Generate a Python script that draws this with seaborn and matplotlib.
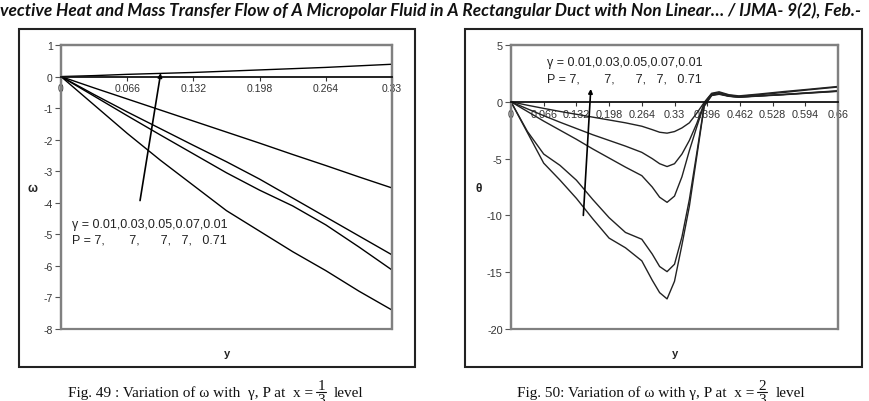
import numpy as np
import pandas as pd
import matplotlib
matplotlib.use("Agg")
import matplotlib.pyplot as plt
import seaborn as sns
from matplotlib.patches import Rectangle
from matplotlib.lines import Line2D

# ---------------- data : Fig. 49 (omega) ----------------
x_left = [0, 0.033, 0.066, 0.099, 0.132, 0.165, 0.198, 0.231, 0.264, 0.297, 0.33]
w1 = [0, 0.03, 0.07, 0.10, 0.13, 0.17, 0.21, 0.25, 0.29, 0.34, 0.39]
w2 = [0, -0.36, -0.71, -1.06, -1.41, -1.76, -2.11, -2.47, -2.82, -3.18, -3.53]
w3 = [0, -0.57, -1.12, -1.65, -2.18, -2.70, -3.25, -3.85, -4.45, -5.05, -5.65]
w4 = [0, -0.62, -1.24, -1.85, -2.45, -3.05, -3.60, -4.10, -4.70, -5.40, -6.13]
w5 = [0, -0.90, -1.80, -2.65, -3.45, -4.25, -4.90, -5.55, -6.15, -6.80, -7.40]

left_xticks = [0, 0.066, 0.132, 0.198, 0.264, 0.33]
left_xlabels = ["0", "0.066", "0.132", "0.198", "0.264", "0.33"]
left_yticks = [1, 0, -1, -2, -3, -4, -5, -6, -7, -8]

# ---------------- data : Fig. 50 (theta) ----------------
x_right = [0, 0.033, 0.066, 0.099, 0.132, 0.165, 0.198, 0.231, 0.264, 0.285,
           0.30, 0.315, 0.33, 0.345, 0.36, 0.375, 0.39, 0.405, 0.42, 0.44,
           0.46, 0.50, 0.55, 0.60, 0.66]
t1 = [0, -0.30, -0.58, -0.85, -1.10, -1.35, -1.60, -1.85, -2.15, -2.45,
      -2.68, -2.76, -2.62, -2.30, -1.85, -1.00, -0.05, 0.75, 0.88, 0.62,
      0.52, 0.68, 0.90, 1.10, 1.35]
t2 = [0, -0.62, -1.22, -1.80, -2.35, -2.90, -3.40, -3.90, -4.45, -5.00,
      -5.45, -5.70, -5.45, -4.60, -3.40, -1.90, -0.10, 0.70, 0.80, 0.58,
      0.48, 0.62, 0.82, 1.05, 1.30]
t3 = [0, -0.85, -1.70, -2.50, -3.30, -4.15, -4.95, -5.75, -6.50, -7.50,
      -8.40, -8.85, -8.30, -6.60, -4.30, -2.20, -0.20, 0.62, 0.72, 0.50,
      0.42, 0.52, 0.65, 0.80, 0.97]
t4 = [0, -2.60, -4.60, -5.60, -6.90, -8.60, -10.20, -11.50, -12.10, -13.40,
      -14.50, -14.95, -14.30, -11.90, -8.60, -4.50, -0.30, 0.58, 0.70, 0.50,
      0.42, 0.52, 0.64, 0.78, 0.94]
t5 = [0, -2.70, -5.40, -6.90, -8.50, -10.30, -12.00, -12.85, -14.00, -15.70,
      -16.80, -17.35, -15.80, -12.60, -9.20, -4.80, -0.40, 0.55, 0.66, 0.48,
      0.40, 0.50, 0.62, 0.76, 0.92]

right_xticks = [0, 0.066, 0.132, 0.198, 0.264, 0.33, 0.396, 0.462, 0.528, 0.594, 0.66]
right_xlabels = ["0", "0.066", "0.132", "0.198", "0.264", "0.33", "0.396",
                 "0.462", "0.528", "0.594", "0.66"]
right_yticks = [5, 0, -5, -10, -15, -20]

gammas = ["0.01", "0.03", "0.05", "0.07", "0.01"]
p_line = "P = 7,       7,      7,   7,   0.71"

title_text = ("vective Heat and Mass Transfer Flow of A Micropolar Fluid in A "
              "Rectangular Duct with Non Linear\u2026 / IJMA- 9(2), Feb.-")
caption_left_head = "Fig. 49 : Variation of \u03c9 with  \u03b3, P at  x ="
caption_right_head = "Fig. 50: Variation of \u03c9 with \u03b3, P at  x ="
frac_left = ("1", "3")
frac_right = ("2", "3")
caption_tail = "level"


def long_frame(x, series):
    rows = []
    for i, s in enumerate(series):
        for xv, yv in zip(x, s):
            rows.append({"y": xv, "v": yv, "s": f"c{i}"})
    return pd.DataFrame(rows)


sns.set_theme(style="white")
plt.rcParams["font.family"] = ["Liberation Sans", "DejaVu Sans"]
plt.rcParams["axes.unicode_minus"] = False

W, H = 869, 402
fig = plt.figure(figsize=(W / 100, H / 100), dpi=100)


def fx(px):
    return px / W


def fy(py):
    return 1 - py / H


def make_axes(x0, x1, y0, y1):
    return fig.add_axes([fx(x0), fy(y1), fx(x1) - fx(x0), fy(y0) - fy(y1)])


def style(ax, xticks, xlabels, yticks, xlim, ylim, ylab, ylab_x, tick_fs):
    ax.set_xlim(xlim)
    ax.set_ylim(ylim)
    ax.set_xticks(xticks)
    ax.set_xticklabels(xlabels)
    ax.set_yticks(yticks)
    ax.set_yticklabels([str(v) for v in yticks])
    for side in ["left", "right", "top"]:
        ax.spines[side].set_visible(True)
        ax.spines[side].set_color("#808080")
        ax.spines[side].set_linewidth(1.6)
    ax.spines["bottom"].set_position(("data", 0))
    ax.spines["bottom"].set_color("#111111")
    ax.spines["bottom"].set_linewidth(1.3)
    ax.add_patch(Rectangle((0, 0), 1, 1, transform=ax.transAxes, fill=False,
                           ec="#808080", lw=1.6, clip_on=False, zorder=0.5))
    ax.tick_params(axis="x", direction="out", length=3, width=0.8,
                   color="#333333", pad=2, labelsize=tick_fs, labelcolor="#333333",
                   bottom=True)
    ax.tick_params(axis="y", direction="out", length=4, width=0.8,
                   color="#555555", pad=2, labelsize=tick_fs, labelcolor="#333333",
                   left=True)
    ax.set_xlabel("y", fontsize=8, fontweight="bold", color="#222222")
    ax.xaxis.set_label_coords(0.5, -0.067)
    ax.set_ylabel(ylab, fontsize=8.5, fontweight="bold", rotation=0,
                  color="#222222", va="center", ha="center")
    ax.yaxis.set_label_coords(ylab_x, 0.496)
    ax.grid(False)
    ax.set_facecolor("white")


# outer chart frames
for (a, b) in [(19, 415), (465, 862)]:
    fig.add_artist(Rectangle((fx(a), fy(368)), fx(b) - fx(a), fy(30) - fy(368),
                             transform=fig.transFigure, fill=False,
                             ec="#222222", lw=1.5))

# ---------------- left chart ----------------
axL = make_axes(61, 392, 46, 330)
dfL = long_frame(x_left, [w1, w2, w3, w4, w5])
sns.lineplot(data=dfL, x="y", y="v", hue="s", palette=["black"] * 5,
             estimator=None, sort=False, legend=False, linewidth=1.0, ax=axL)
style(axL, left_xticks, left_xlabels, left_yticks, (0, 0.33), (-8, 1),
      "\u03c9", -0.085, 7.5)
axL.annotate("", xy=(0.0994, 0.11), xytext=(0.0788, -3.93),
             arrowprops=dict(arrowstyle="-|>", color="black", lw=1.2,
                             mutation_scale=6, shrinkA=0, shrinkB=0))
axL.text(0.011, -4.67, "\u03b3 = " + ",".join(gammas), fontsize=9,
         va="center", ha="left", color="#222222")
axL.text(0.011, -5.16, p_line, fontsize=9, va="center", ha="left",
         color="#222222")

# ---------------- right chart ----------------
axR = make_axes(511, 838, 46, 330)
dfR = long_frame(x_right, [t1, t2, t3, t4, t5])
sns.lineplot(data=dfR, x="y", y="v", hue="s", palette=["#222222"] * 5,
             estimator=None, sort=False, legend=False, linewidth=1.0, ax=axR)
style(axR, right_xticks, right_xlabels, right_yticks, (0, 0.66), (-20, 5),
      "\u03b8", -0.098, 7.8)
axR.annotate("", xy=(0.161, 1.13), xytext=(0.146, -10.0),
             arrowprops=dict(arrowstyle="-|>", color="black", lw=1.2,
                             mutation_scale=6, shrinkA=0, shrinkB=0))
axR.text(0.072, 3.48, "\u03b3 = " + ",".join(gammas), fontsize=9,
         va="center", ha="left", color="#222222")
axR.text(0.072, 2.07, p_line, fontsize=9, va="center", ha="left",
         color="#222222")

# ---------------- page texts ----------------
fig.text(0.0, fy(11), title_text, fontsize=12.4, fontweight="bold",
         style="italic", family=["Lato", "DejaVu Sans"], va="center", ha="left",
         color="#111111")

serif = ["Liberation Serif", "DejaVu Serif"]
cap_kw = dict(fontsize=11, family=serif, color="#111111")
baseline_py = 397
fig.canvas.draw()
renderer = fig.canvas.get_renderer()


def caption(x_start, head, frac):
    t = fig.text(fx(x_start), fy(baseline_py), head, ha="left", va="baseline", **cap_kw)
    bb = t.get_window_extent(renderer)
    x_end = bb.x1
    xc = x_end + 8
    fig.text(fx(xc), fy(390.5), frac[0], ha="center", va="baseline", **cap_kw)
    fig.add_artist(Line2D([fx(xc - 5), fx(xc + 5)], [fy(392.5)] * 2,
                          transform=fig.transFigure, color="#111111", lw=0.8))
    fig.text(fx(xc), fy(394.5), frac[1], ha="center", va="top", **cap_kw)
    fig.text(fx(xc + 13), fy(baseline_py), caption_tail, ha="left",
             va="baseline", **cap_kw)


caption(68, caption_left_head, frac_left)
caption(517, caption_right_head, frac_right)

fig.savefig("out.png", dpi=100, facecolor="white")
